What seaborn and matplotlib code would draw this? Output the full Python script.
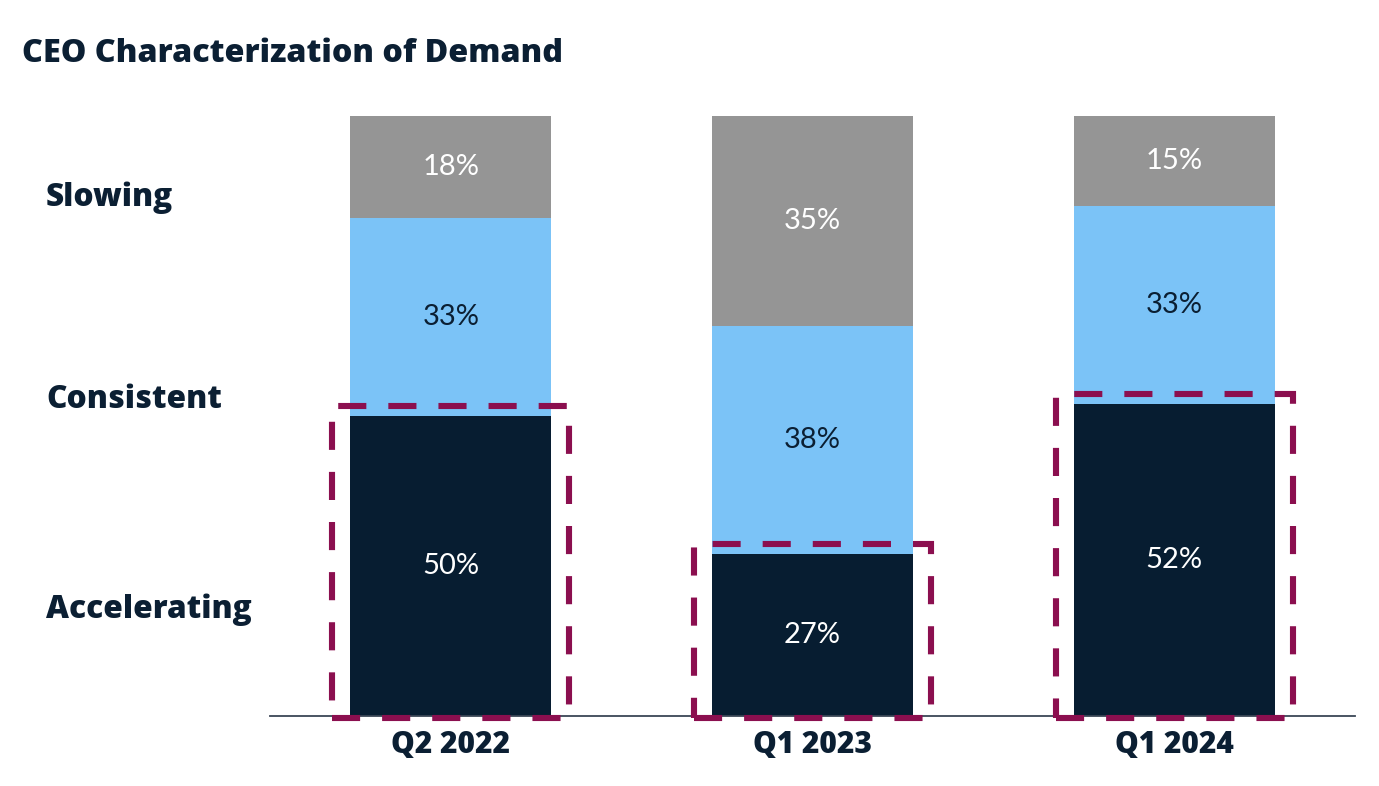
import matplotlib
matplotlib.use("Agg")
import matplotlib.pyplot as plt
import matplotlib.patches as mpatches
import seaborn as sns
import pandas as pd
import numpy as np

# ---- data ----
periods = ["Q2 2022", "Q1 2023", "Q1 2024"]
accelerating = [50, 27, 52]
consistent = [33, 38, 33]
slowing = [18, 35, 15]
row_labels = ["Slowing", "Consistent", "Accelerating"]
title = "CEO Characterization of Demand"

# ---- style ----
sns.set_theme(style="white")
plt.rcParams["font.family"] = ["Lato", "DejaVu Sans"]
BOLD = ["Open Sans", "DejaVu Sans"]

NAVY = "#071D31"
LIGHT = "#7BC3F7"
GRAY = "#959595"
MAROON = "#8B0F4F"
TEXT = "#0B1F33"

df = pd.DataFrame({
    "period": periods,
    "acc": accelerating,
    "con": consistent,
    "slo": slowing,
})
df["c1"] = df["acc"]
df["c2"] = df["acc"] + df["con"]
df["c3"] = df["acc"] + df["con"] + df["slo"]

fig = plt.figure(figsize=(13.79, 7.86), dpi=100)
ax = fig.add_axes([270 / 1379, 70 / 786, (1355 - 270) / 1379, (716 - 116) / 786])

W = 0.555
for col, colr in [("c3", GRAY), ("c2", LIGHT), ("c1", NAVY)]:
    sns.barplot(data=df, x="period", y=col, color=colr, width=W,
                errorbar=None, ax=ax, saturation=1, linewidth=0)

ax.set_xlim(-0.5, 2.5)
ax.set_ylim(0, 100)

# segment labels
for i, r in df.iterrows():
    ax.text(i, r["acc"] / 2, f"{r['acc']}%", ha="center", va="center",
            color="white", fontsize=21)
    ax.text(i, r["acc"] + r["con"] / 2, f"{r['con']}%", ha="center", va="center",
            color=TEXT, fontsize=21)
    top = min(r["c3"], 100)
    ax.text(i, (r["c2"] + top) / 2, f"{r['slo']}%", ha="center", va="center",
            color="white", fontsize=21)

# dashed highlight boxes around accelerating segments
BW = 0.656
for i, r in df.iterrows():
    rect = mpatches.Rectangle((i - BW / 2, -0.4), BW, r["acc"] + 0.4 + 1.7,
                              fill=False, edgecolor=MAROON, linewidth=4.4,
                              linestyle=(0, (4.6, 3.6)), clip_on=False,
                              zorder=10, joinstyle="miter", capstyle="butt")
    ax.add_patch(rect)

# axes styling
for s in ["left", "right", "top"]:
    ax.spines[s].set_visible(False)
ax.spines["bottom"].set_color("#3A4656")
ax.spines["bottom"].set_linewidth(1.3)
ax.set_yticks([])
ax.set_xlabel("")
ax.set_ylabel("")
ax.tick_params(axis="x", length=0, pad=10)
ax.set_xticks(range(len(periods)))
ax.set_xticklabels(periods, fontsize=21.5, fontweight="heavy", color=TEXT,
                   family=BOLD)

# row labels on the left
label_y = [206, 408, 618]
for lab, yb in zip(row_labels, label_y):
    fig.text(46 / 1379, 1 - yb / 786, lab, ha="left", va="baseline",
             fontsize=22.8, fontweight="heavy", color=TEXT, family=BOLD)

fig.text(22 / 1379, 1 - 62 / 786, title, ha="left", va="baseline",
         fontsize=23.2, fontweight="heavy", color=TEXT, family=BOLD)

fig.savefig("out.png", dpi=100, facecolor="white")
